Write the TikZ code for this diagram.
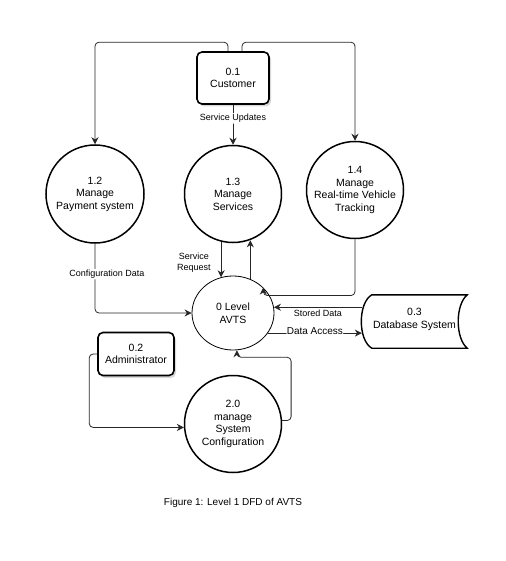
\documentclass[tikz,border=0pt]{standalone}
\usepackage{fontspec}
\setmainfont{Liberation Sans}
\usetikzlibrary{arrows.meta,shapes.geometric,shadows,calc}

\tikzset{
  nodetext/.style={font=\fontsize{10.5}{12.5}\selectfont, align=center, text=black},
  entity/.style={nodetext, draw=black, fill=white, line width=1.6pt, rounded corners=5pt,
    drop shadow={shadow xshift=2pt, shadow yshift=-2.5pt, opacity=0.3}},
  process/.style={nodetext, circle, draw=black, fill=white, line width=1.5pt, inner sep=0pt},
  flow/.style={draw=black!85, line width=0.8pt, rounded corners=4pt,
    -{Stealth[length=7pt,width=7pt]}},
  flowlabel/.style={font=\fontsize{9}{11}\selectfont, fill=white, inner sep=1pt, align=center, text=black}
}

\begin{document}
\begin{tikzpicture}[x=1pt,y=-1pt]
\useasboundingbox (0,0) rectangle (505,561);

% external entities
\node[entity, minimum width=72pt, minimum height=52pt] (cust) at (233,78) {0.1\\Customer};
\node[entity, minimum width=76pt, minimum height=43pt] (admin) at (136,354) {0.2\\Administrator};

% processes
\node[process, minimum size=98pt] (p12) at (95,194) {1.2\\Manage\\Payment system};
\node[process, minimum size=97pt] (p13) at (233,194) {1.3\\Manage\\Services};
\node[process, minimum size=97pt] (p14) at (355,190) {1.4\\Manage\\Real-time Vehicle\\Tracking};
\node[nodetext, ellipse, draw=black, fill=white, line width=0.8pt,
      minimum width=82pt, minimum height=74pt, inner sep=0pt] (avts) at (233,313) {0 Level\\AVTS};
\node[process, minimum size=97pt] (p20) at (233,424) {2.0\\manage\\System\\Configuration};

% data store
\node[nodetext, minimum width=105pt, minimum height=53pt, inner sep=0pt] (db) at (414.5,321.5) {};
\fill[black, opacity=0.3, shift={(2pt,-2.5pt)}]
  ($(db.north west)+(10,0)$) -- (db.north east)
  .. controls ($(db.north east)+(-12,10)$) and ($(db.south east)+(-12,-10)$) .. (db.south east)
  -- ($(db.south west)+(10,0)$)
  .. controls ($(db.south west)+(-4,-8)$) and ($(db.north west)+(-4,8)$) .. cycle;
\draw[line width=1.4pt, fill=white]
  ($(db.north west)+(10,0)$) -- (db.north east)
  .. controls ($(db.north east)+(-12,10)$) and ($(db.south east)+(-12,-10)$) .. (db.south east)
  -- ($(db.south west)+(10,0)$)
  .. controls ($(db.south west)+(-4,-8)$) and ($(db.north west)+(-4,8)$) .. cycle;
\node[nodetext] (dbtext) at ($(db.center)+(0,-2)$) {0.3\\Database System};

% customer flows
\draw[flow] ($(cust.north)+(-5,0)$) -- ++(0,-9) -| (p12.north);
\draw[flow] ($(cust.north)+(9,0)$) -- ++(0,-9) -| (p14.north);
\draw[flow] (cust.south) -- node[flowlabel, pos=0.34] {Service Updates} (p13.north);

% flows into and out of the level 0 process
\draw[flow] (p12.south) |- node[flowlabel, pos=0.22, xshift=12pt] {Configuration Data} (avts.west);
\draw[flow] (p13.256) -- node[flowlabel, pos=0.6, left=9pt] {Service\\Request} (p13.256 |- avts.109);
\draw[flow] (avts.63) -- (avts.63 |- p13.290);
\draw[flow] (p14.south) |- ($(avts.40)+(0,8)$) -- (avts.40);

% data store flows
\draw[flow] (avts.8 -| db.west) -- node[flowlabel, below=1pt] {Stored Data} (avts.8);
\draw[flow] (avts.330) -- node[flowlabel, font=\fontsize{10}{12}\selectfont, yshift=2pt] {Data Access} (avts.330 -| db.west);

% administrator flows
\draw[flow] (admin.west) -- ++(-8,0) |- (p20.184);
\draw[flow] (p20.4) -- ++(9,0) |- ($(avts.276)+(0,7)$) -- (avts.276);

% caption
\node[font=\fontsize{10}{12}\selectfont] (caption) at (233,503) {Figure 1: Level 1 DFD of AVTS};
\end{tikzpicture}
\end{document}
